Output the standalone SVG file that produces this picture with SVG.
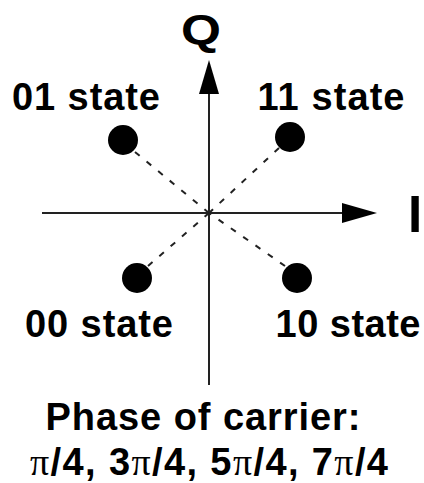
<svg xmlns="http://www.w3.org/2000/svg" width="424" height="483" viewBox="0 0 424 483">
<style>
.lbl{font-family:"Liberation Sans",Arial,sans-serif;font-weight:bold;font-size:38px;fill:#000}
.axis{stroke:#222;stroke-width:2;fill:none}
.dash{stroke:#222;stroke-width:2;stroke-dasharray:6 9;fill:none}
.pi{font-family:"Liberation Serif","Times New Roman",serif;font-weight:normal}
</style>
<rect width="424" height="483" fill="#fff"/>
<g id="connectors">
<line class="axis" x1="42" y1="213" x2="345" y2="213"/>
<polygon points="342,203 377,213 342,223" fill="#000"/>
<line class="axis" x1="209" y1="385" x2="209" y2="92"/>
<polygon points="199,94 209,60 219,94" fill="#000"/>
<line class="dash" x1="135" y1="152" x2="209" y2="213"/>
<line class="dash" x1="279" y1="148" x2="209" y2="213"/>
<line class="dash" x1="148" y1="266" x2="209" y2="213"/>
<line class="dash" x1="285" y1="266" x2="209" y2="213"/>
</g>
<g id="axis-labels">
<text class="lbl" x="201" y="44" text-anchor="middle" style="font-size:43px" textLength="40" lengthAdjust="spacingAndGlyphs">Q</text>
<text class="lbl" x="415" y="232" text-anchor="middle" style="font-size:51px">I</text>
</g>
<g id="s01"><circle cx="123" cy="140" r="15"/><text class="lbl" x="86" y="110" text-anchor="middle" textLength="148">01 state</text></g>
<g id="s11"><circle cx="290" cy="137" r="15"/><text class="lbl" x="331" y="110" text-anchor="middle" textLength="147">11 state</text></g>
<g id="s00"><circle cx="137" cy="278" r="15"/><text class="lbl" x="99" y="337" text-anchor="middle" textLength="148">00 state</text></g>
<g id="s10"><circle cx="297" cy="278" r="15"/><text class="lbl" x="348" y="337" text-anchor="middle" textLength="145">10 state</text></g>
<g id="caption">
<text class="lbl" x="203" y="430" text-anchor="middle" textLength="315">Phase of carrier:</text>
<text class="lbl" x="209" y="475" text-anchor="middle" textLength="358"><tspan class="pi">π</tspan>/4, 3<tspan class="pi">π</tspan>/4, 5<tspan class="pi">π</tspan>/4, 7<tspan class="pi">π</tspan>/4</text>
</g>
</svg>
